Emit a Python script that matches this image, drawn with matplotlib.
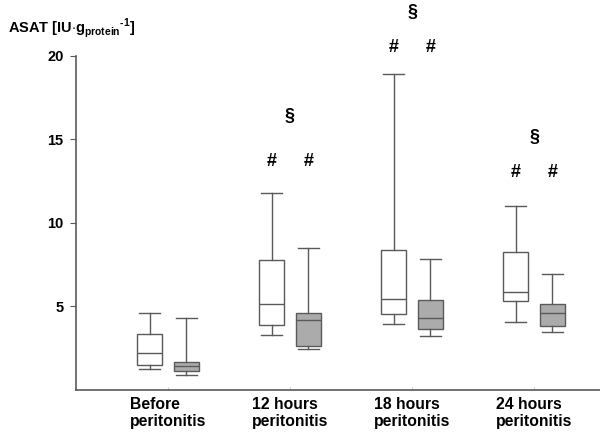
import matplotlib
matplotlib.use('Agg')
import matplotlib.pyplot as plt

plt.rcParams['font.family'] = ['Liberation Sans', 'DejaVu Sans']
plt.rcParams['mathtext.fontset'] = 'custom'
plt.rcParams['mathtext.rm'] = 'Liberation Sans:bold'
plt.rcParams['mathtext.bf'] = 'Liberation Sans:bold'

# donnees
grupos = ['Before\nperitonitis', '12 hours\nperitonitis', '18 hours\nperitonitis', '24 hours\nperitonitis']

# serie blanche: min, q1, mediana, q3, max
branco_min = [1.23, 3.32, 3.96, 4.10]
branco_q1 = [1.47, 3.92, 4.56, 5.34]
branco_med = [2.20, 5.12, 5.44, 5.84]
branco_q3 = [3.38, 7.80, 8.41, 8.25]
branco_max = [4.64, 11.78, 18.93, 10.99]

# serie cinza
cinza_min = [0.87, 2.44, 3.26, 3.50]
cinza_q1 = [1.15, 2.65, 3.68, 3.86]
cinza_med = [1.45, 4.20, 4.30, 4.62]
cinza_q3 = [1.69, 4.62, 5.40, 5.12]
cinza_max = [4.34, 8.51, 7.87, 6.93]

# marcas de significancia (grupo, texto, altura)
marca_grupo = [1, 1, 1, 2, 2, 2, 3, 3, 3]
marca_lado = [-1, 1, 0, -1, 1, 0, -1, 1, 0]
marca_txt = ['#', '#', '§', '#', '#', '§', '#', '#', '§']
marca_y = [13.7, 13.7, 16.4, 20.5, 20.5, 22.6, 13.0, 13.0, 15.1]

cor = '#5a5a5a'
desloc = 0.15
larg = 0.205

fig = plt.figure(figsize=(6, 4.33), dpi=100)
ax = fig.add_axes([0.1267, 0.0993, 0.8733, 0.7714])

def stats(mn, q1, med, q3, mx):
    return [dict(whislo=mn[i], q1=q1[i], med=med[i], q3=q3[i], whishi=mx[i], fliers=[])
            for i in range(len(mn))]

pos = list(range(len(grupos)))
props = dict(color=cor, linewidth=1.0)
ax.bxp(stats(branco_min, branco_q1, branco_med, branco_q3, branco_max),
       positions=[p - desloc for p in pos], widths=larg, patch_artist=True,
       boxprops=dict(facecolor='white', edgecolor=cor, linewidth=1.0),
       medianprops=props, whiskerprops=props, capprops=props, capwidths=0.17,
       showfliers=False, manage_ticks=False)
ax.bxp(stats(cinza_min, cinza_q1, cinza_med, cinza_q3, cinza_max),
       positions=[p + desloc for p in pos], widths=larg, patch_artist=True,
       boxprops=dict(facecolor='#ababab', edgecolor=cor, linewidth=1.0),
       medianprops=props, whiskerprops=props, capprops=props, capwidths=0.17,
       showfliers=False, manage_ticks=False)

for g, l, t, y in zip(marca_grupo, marca_lado, marca_txt, marca_y):
    ax.text(g + l * desloc, y, t, ha='center', va='center', fontsize=13,
            fontweight='bold', clip_on=False)

ax.set_xlim(-0.754, 3.54)
ax.set_ylim(0, 20)
ax.set_yticks([5, 10, 15, 20])
ax.set_yticklabels(['5', '10', '15', '20'], fontsize=10.5, fontweight='bold')
ax.set_xticks(pos)
ax.set_xticklabels(grupos, fontsize=11.3, fontweight='bold', linespacing=1.15)
ax.tick_params(axis='x', direction='in', length=2, color='#cccccc', pad=5)
ax.tick_params(axis='y', direction='out', length=4, color=cor, pad=5)
for lbl in ax.get_xticklabels():
    lbl.set_horizontalalignment('center')
    lbl.set_multialignment('left')

for s in ['top', 'right']:
    ax.spines[s].set_visible(False)
for s in ['left', 'bottom']:
    ax.spines[s].set_color(cor)
    ax.spines[s].set_linewidth(1.2)

fig.text(8 / 600, 1 - 28 / 433, r'ASAT [IU$\cdot$g$_{\mathbf{protein}}$$^{\text{-}\mathbf{1}}$]',
         fontsize=10.5, fontweight='bold', va='center', ha='left')

fig.savefig('out.png', dpi=100)
